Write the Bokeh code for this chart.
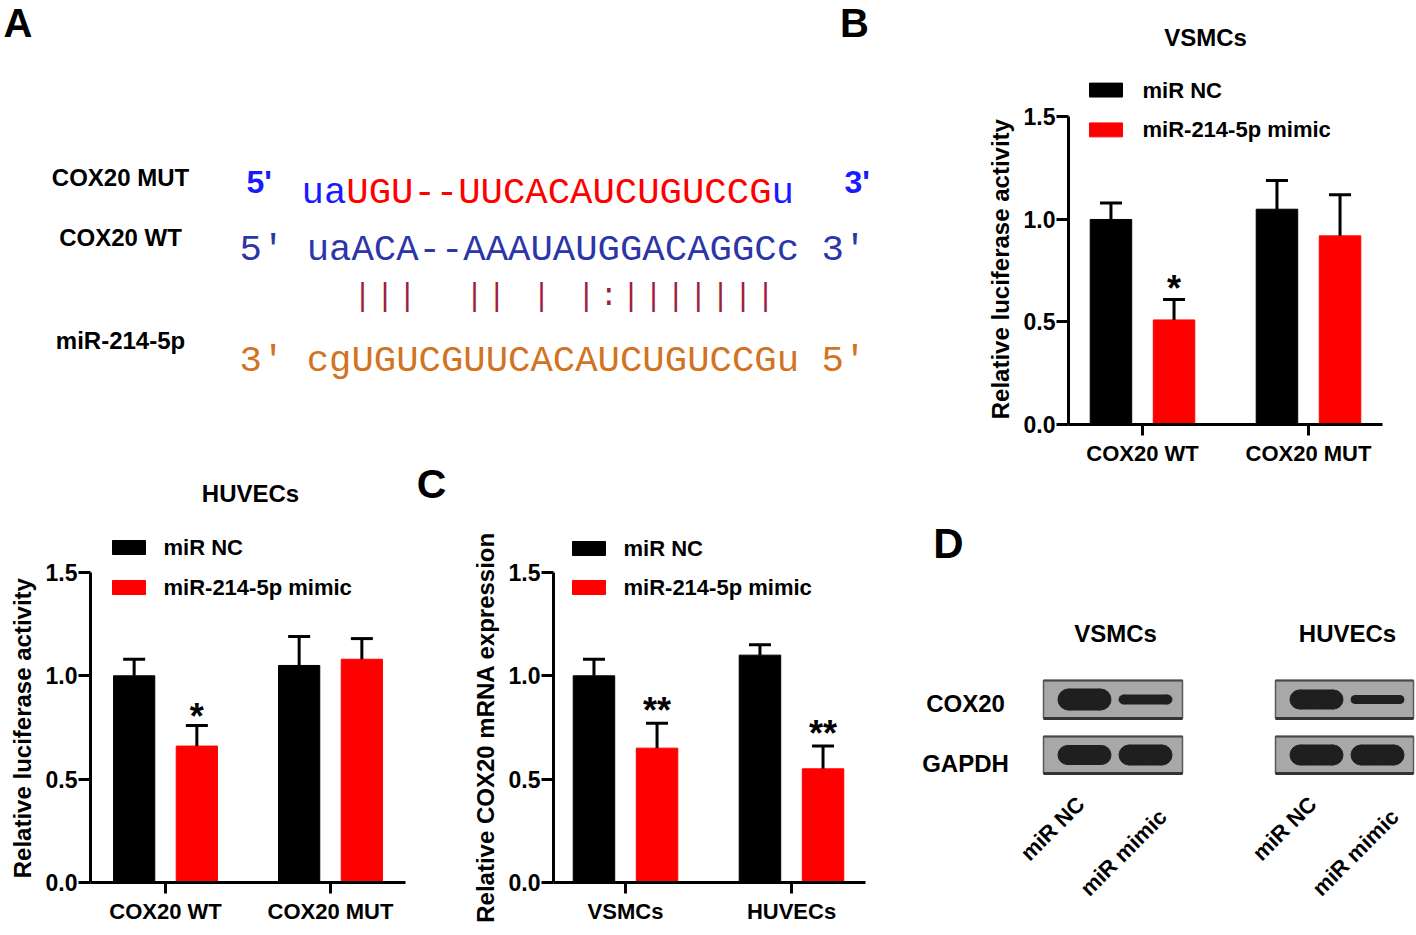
import numpy as np
from bokeh.plotting import figure
from bokeh.layouts import column, row
from bokeh.models import Range1d, FixedTicker, PrintfTickFormatter
from bokeh.core.properties import value
from bokeh.embed import file_html
from bokeh.resources import INLINE

FONT = "Liberation Sans"
MONO = "Liberation Mono"
NBSP = "\u00a0"

# ---------------- data ----------------
series = ["miR NC", "miR-214-5p mimic"]
series_colors = ["#000000", "#ff0000"]

vsmc_luc_groups = ["COX20 WT", "COX20 MUT"]
vsmc_luc_nc = [1.00, 1.05]
vsmc_luc_nc_err = [0.08, 0.14]
vsmc_luc_mimic = [0.51, 0.92]
vsmc_luc_mimic_err = [0.10, 0.20]
vsmc_luc_sig = ["*", ""]

huvec_luc_groups = ["COX20 WT", "COX20 MUT"]
huvec_luc_nc = [1.00, 1.05]
huvec_luc_nc_err = [0.08, 0.14]
huvec_luc_mimic = [0.66, 1.08]
huvec_luc_mimic_err = [0.10, 0.10]
huvec_luc_sig = ["*", ""]

mrna_groups = ["VSMCs", "HUVECs"]
mrna_nc = [1.00, 1.10]
mrna_nc_err = [0.08, 0.05]
mrna_mimic = [0.65, 0.55]
mrna_mimic_err = [0.12, 0.11]
mrna_sig = ["**", "**"]

y_ticks = [0.0, 0.5, 1.0, 1.5]

# panel A: binding sites
site_labels = ["COX20 MUT", "COX20 WT", "miR-214-5p"]
mut_seq = "uaUGU--UUCACAUCUGUCCGu"
wt_seq = "uaACA--AAAUAUGGACAGGCc"
pair_str = "  |||  || | |:||||||| "
mir_seq = "cgUGUCGUUCACAUCUGUCCGu"

# panel D: western blot (band thickness, px)
blot_cells = ["VSMCs", "HUVECs"]
blot_lanes = ["miR NC", "miR mimic"]
blot_proteins = ["COX20", "GAPDH"]
vsmc_cox20_band = [21, 9]
vsmc_gapdh_band = [19, 20]
huvec_cox20_band = [19, 8]
huvec_gapdh_band = [20, 20]


def txt(p, x, y, t, size, color="#000000", align="center", baseline="middle",
        bold=True, font=FONT, angle=0.0):
    p.text(x=[x], y=[y], text=[t], text_font=value(font),
           text_font_style="bold" if bold else "normal",
           text_font_size=size, text_color=color, text_align=align,
           text_baseline=baseline, angle=angle)


def blank(x0, y0, w, h):
    p = figure(width=w, height=h, x_range=Range1d(x0, x0 + w),
               y_range=Range1d(y0 + h, y0), x_axis_location=None,
               y_axis_location=None, min_border=0, frame_align=False,
               output_backend="svg", toolbar_location=None)
    p.grid.visible = False
    p.outline_line_color = None
    return p


def bar_panel(fx, fy, w, h, ax_left, frame_right, axis_end, y0px, ppy, g0px, ppx,
              groups, nc, nc_err, mim, mim_err, sig, ylabel, label_pad, title, title_px,
              leg_box_x, leg_text_x, leg_ys, star_lift, top_border=0):
    X = lambda px: (px - g0px) / ppx
    Y = lambda py: (y0px - py) / ppy
    p = figure(width=w, height=h,
               x_range=Range1d(X(ax_left), X(frame_right)),
               y_range=Range1d(0, Y(fy + top_border)),
               min_border_left=ax_left - fx, min_border_right=fx + w - frame_right,
               min_border_top=top_border, min_border_bottom=fy + h - y0px,
               frame_align=False, output_backend="svg", toolbar_location=None)
    p.grid.visible = False
    p.outline_line_color = None

    idx = np.arange(len(groups))
    off = 0.19
    bw = 0.25
    cap = 11.0 / ppx
    for k, (means, errs) in enumerate([(nc, nc_err), (mim, mim_err)]):
        xs = idx + (-off if k == 0 else off)
        p.vbar(x=xs, top=means, bottom=0, width=bw, color=series_colors[k])
        tops = np.array(means) + np.array(errs)
        p.segment(x0=xs, y0=means, x1=xs, y1=tops, line_color="#000000", line_width=3)
        p.segment(x0=xs - cap, y0=tops, x1=xs + cap, y1=tops, line_color="#000000", line_width=3)
        if k == 1:
            p.text(x=xs, y=tops + star_lift / ppy, text=sig, text_font=value(FONT),
                   text_font_style="bold", text_font_size="36px",
                   text_align="center", text_baseline="alphabetic")

    # legend (drawn manually)
    for k, name in enumerate(series):
        cy = Y(leg_ys[k])
        p.quad(left=X(leg_box_x[0]), right=X(leg_box_x[1]),
               bottom=cy - 7.0 / ppy, top=cy + 7.0 / ppy, color=series_colors[k])
        p.text(x=[X(leg_text_x)], y=[cy], text=[name], text_font=value(FONT),
               text_font_style="bold", text_font_size="22px",
               text_align="left", text_baseline="middle")
    if title:
        p.text(x=[X(title_px[0])], y=[Y(title_px[1])], text=[title],
               text_font=value(FONT), text_font_style="bold",
               text_font_size="24px", text_align="center", text_baseline="middle")

    for ax in (p.xaxis[0], p.yaxis[0]):
        ax.axis_line_width = 3
        ax.major_tick_line_width = 3
        ax.major_tick_in = 0
        ax.minor_tick_in = 0
        ax.minor_tick_out = 0
        ax.major_label_text_font = FONT
        ax.major_label_text_font_style = "bold"
        ax.major_label_text_color = "#000000"
        ax.axis_line_color = "#000000"
        ax.major_tick_line_color = "#000000"
    xa = p.xaxis[0]
    xa.ticker = FixedTicker(ticks=[float(i) for i in idx])
    xa.major_label_overrides = {float(i): g for i, g in enumerate(groups)}
    xa.major_tick_out = 11
    xa.major_label_standoff = 5
    xa.major_label_text_font_size = "22px"
    xa.bounds = (X(ax_left), X(axis_end))
    ya = p.yaxis[0]
    ya.ticker = FixedTicker(ticks=y_ticks)
    ya.formatter = PrintfTickFormatter(format="%.1f")
    ya.bounds = (0, 1.5)
    ya.major_tick_out = 12
    ya.major_label_standoff = 1
    ya.major_label_text_font_size = "23px"
    # trailing no-break spaces move the centred title down onto the drawn axis (0..1.5)
    ya.axis_label = ylabel + NBSP * label_pad
    ya.axis_label_text_font = FONT
    ya.axis_label_text_font_style = "bold"
    ya.axis_label_text_font_size = "24px"
    ya.axis_label_text_color = "#000000"
    ya.axis_label_standoff = 7
    return p, X, Y


# ---------------- panel A (0..880 x 0..460) ----------------
pa = blank(0, 0, 880, 460)
txt(pa, 3, 22, "A", "40px", align="left")
txt(pa, 854, 22, "B", "40px")
for lab, yy in zip(site_labels, [177, 237, 340]):
    txt(pa, 120, yy, lab, "24px")
fs = 37.3
cw = 0.6 * fs
mono_size = "%.1fpx" % fs
# row 1 (mutant)
txt(pa, 246, 181, "5'", "32px", color="#1a1aff", align="left")
txt(pa, 844, 181, "3'", "32px", color="#1a1aff", align="left")
x1 = 301
txt(pa, x1, 192, mut_seq[:2], mono_size, color="#1a1aff", align="left",
    baseline="alphabetic", bold=False, font=MONO)
txt(pa, x1 + 2 * cw, 192, mut_seq[2:-1], mono_size, color="#ff0000", align="left",
    baseline="alphabetic", bold=False, font=MONO)
txt(pa, x1 + 21 * cw, 192, mut_seq[-1], mono_size, color="#1a1aff", align="left",
    baseline="alphabetic", bold=False, font=MONO)
# row 2 (wild type)
x2 = 239
txt(pa, x2, 249, "5' " + wt_seq + " 3'", mono_size, color="#2d36a8", align="left",
    baseline="alphabetic", bold=False, font=MONO)
# row 3 (pairing)
px_ = [x2 + (3 + i + 0.5) * cw for i, c in enumerate(pair_str) if c != " "]
pc_ = [c for c in pair_str if c != " "]
pa.text(x=px_, y=[296] * len(px_), text=pc_, text_font=value(MONO),
        text_font_size="31px", text_color="#9e1f43", text_align="center",
        text_baseline="middle")
# row 4 (miRNA)
txt(pa, x2, 360, "3' " + mir_seq + " 5'", mono_size, color="#d2731f", align="left",
    baseline="alphabetic", bold=False, font=MONO)

# ---------------- HUVEC luciferase (0..450 x 460..935) ----------------
ph, HX, HY = bar_panel(0, 460, 450, 475, 90, 450, 405, 882, 206.7, 165, 165.0,
                       huvec_luc_groups, huvec_luc_nc, huvec_luc_nc_err, huvec_luc_mimic,
                       huvec_luc_mimic_err, huvec_luc_sig, "Relative luciferase activity", 17,
                       "HUVECs", (250, 493), (112, 145), 163, (547, 587), 9)
ph.text(x=[HX(431)], y=[HY(483)], text=["C"], text_font=value(FONT),
        text_font_style="bold", text_font_size="41px", text_align="center",
        text_baseline="middle")

# ---------------- panel C (450..880 x 460..935) ----------------
pc, _, _ = bar_panel(450, 460, 430, 475, 553, 865, 865, 882, 206.7, 625, 166.0,
                     mrna_groups, mrna_nc, mrna_nc_err, mrna_mimic, mrna_mimic_err,
                     mrna_sig, "Relative COX20 mRNA expression", 10, None, None,
                     (572, 605), 623, (548, 587), 13, top_border=45)

# ---------------- panel B (880..1416 x 0..468) ----------------
pb, _, _ = bar_panel(880, 0, 536, 468, 1068, 1382, 1382, 426, 206.0, 1142, 166.0,
                     vsmc_luc_groups, vsmc_luc_nc, vsmc_luc_nc_err, vsmc_luc_mimic,
                     vsmc_luc_mimic_err, vsmc_luc_sig, "Relative luciferase activity", 17,
                     "VSMCs", (1205, 37), (1089, 1122), 1142, (90, 130), 11)

# ---------------- panel D (880..1416 x 468..935) ----------------
pd_ = blank(880, 468, 536, 467)
txt(pd_, 948, 543, "D", "42px")
box_x = [(1043, 1182), (1275, 1413)]
row_y = [(680, 718), (736, 773)]
lane_x = [(1084, 1145), (1316, 1377)]
band_w = 53
bands = [[vsmc_cox20_band, vsmc_gapdh_band], [huvec_cox20_band, huvec_gapdh_band]]
title_x = [1115, 1347]
for ci, cell in enumerate(blot_cells):
    txt(pd_, title_x[ci], 633, cell, "24px")
    for ri, prot in enumerate(blot_proteins):
        (l, r), (t, b) = box_x[ci], row_y[ri]
        pd_.quad(left=l, right=r, top=t, bottom=b, fill_color="#a8a8a8",
                 line_color="#5a5a5a", line_width=1.5)
        pd_.segment(x0=l, x1=r, y0=b, y1=b, line_color="#333333", line_width=3)
        pd_.segment(x0=l, x1=r, y0=t, y1=t, line_color="#4a4a4a", line_width=2)
        cy = (t + b) / 2.0
        for li, lx in enumerate(lane_x[ci]):
            hh = bands[ci][ri][li]
            pd_.rect(x=lx, y=cy, width=band_w - hh, height=hh, color="#1f1f1f")
            pd_.ellipse(x=[lx - (band_w - hh) / 2.0, lx + (band_w - hh) / 2.0],
                        y=[cy, cy], width=hh, height=hh, color="#1f1f1f")
    for li, lane in enumerate(blot_lanes):
        ox, oy = [(-32, 828), (-22, 852)][li]
        txt(pd_, lane_x[ci][li] + ox, oy, lane, "22px", angle=np.pi / 4)
for ri, prot in enumerate(blot_proteins):
    txt(pd_, 965, [703, 763][ri], prot, "24px")

layout = row(column(pa, row(ph, pc)), column(pb, pd_))
open("out.html", "w").write(file_html(layout, INLINE))
